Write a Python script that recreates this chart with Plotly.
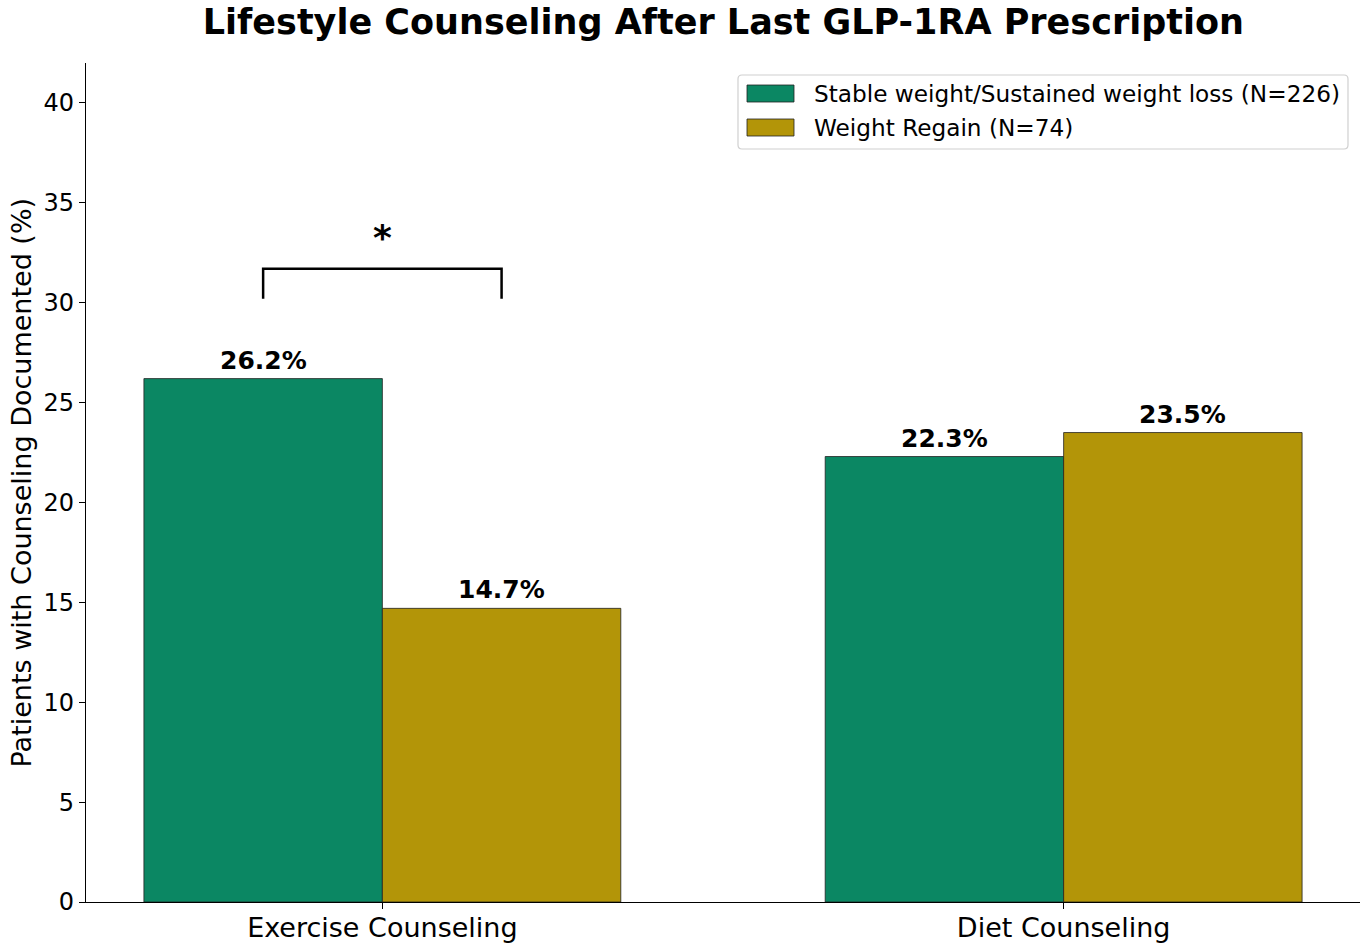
import plotly.graph_objects as go

categories = ["Exercise Counseling", "Diet Counseling"]
stable_vals = [26.2, 22.3]
regain_vals = [14.7, 23.5]
series_names = ["Stable weight/Sustained weight loss (N=226)", "Weight Regain (N=74)"]
colors = ["#0b8763", "#b39508"]
ytick_vals = [0, 5, 10, 15, 20, 25, 30, 35, 40]

x_pos = list(range(len(categories)))
width = 0.35
font = "DejaVu Sans"

# plot-area geometry (pixels) used for the hand-built legend
L, R, T, B = 86, 1360, 63, 902
W_PX, H_PX = R - L, B - T


def px(x):
    return (x - L) / W_PX


def py(y):
    return (B - y) / H_PX


fig = go.Figure()
for vals, name, col, off in [(stable_vals, series_names[0], colors[0], -width),
                             (regain_vals, series_names[1], colors[1], 0.0)]:
    fig.add_trace(go.Bar(
        x=x_pos, y=vals, name=name, width=width, offset=off, showlegend=False,
        marker=dict(color=col, line=dict(color="#222222", width=0.8)),
    ))
    for xi, v in zip(x_pos, vals):
        fig.add_annotation(x=xi + off + width / 2, y=v, text=f"<b>{v:.1f}%</b>",
                           showarrow=False, yanchor="bottom", yshift=2,
                           font=dict(family=font, size=25, color="black"))

# significance bracket
b_low, b_high = 30.2, 31.7
x1 = x_pos[0] - width / 2
x2 = x_pos[0] + width / 2
fig.add_trace(go.Scatter(x=[x1, x1, x2, x2], y=[b_low, b_high, b_high, b_low],
                         mode="lines", line=dict(color="black", width=2.5),
                         showlegend=False, hoverinfo="skip"))
fig.add_annotation(x=x_pos[0], y=33.25, text="<b>*</b>", showarrow=False, yanchor="middle",
                   font=dict(family=font, size=36, color="black"))

# legend (drawn as shapes + text)
lx0, lx1, ly0, ly1, rr = 738, 1348, 75, 149, 4
path = (f"M {px(lx0 + rr)},{py(ly0)} L {px(lx1 - rr)},{py(ly0)} "
        f"Q {px(lx1)},{py(ly0)} {px(lx1)},{py(ly0 + rr)} "
        f"L {px(lx1)},{py(ly1 - rr)} Q {px(lx1)},{py(ly1)} {px(lx1 - rr)},{py(ly1)} "
        f"L {px(lx0 + rr)},{py(ly1)} Q {px(lx0)},{py(ly1)} {px(lx0)},{py(ly1 - rr)} "
        f"L {px(lx0)},{py(ly0 + rr)} Q {px(lx0)},{py(ly0)} {px(lx0 + rr)},{py(ly0)} Z")
fig.add_shape(type="path", path=path, xref="paper", yref="paper",
              line=dict(color="#d0d0d0", width=1.2), fillcolor="rgba(255,255,255,0.85)")
for i, (name, col) in enumerate(zip(series_names, colors)):
    cy = 93.5 + i * 34
    fig.add_shape(type="rect", xref="paper", yref="paper",
                  x0=px(747), x1=px(794), y0=py(cy - 8.5), y1=py(cy + 8.5),
                  fillcolor=col, line=dict(color="#222222", width=0.8))
    fig.add_annotation(xref="paper", yref="paper", x=px(812), y=py(cy), text=name,
                       showarrow=False, xanchor="left", yanchor="middle",
                       font=dict(family=font, size=23.2, color="black"))

# y-axis title
fig.add_annotation(xref="paper", yref="paper", x=px(21), y=0.5,
                   text="Patients with Counseling Documented (%)", textangle=-90,
                   showarrow=False, xanchor="center", yanchor="middle",
                   font=dict(family=font, size=27, color="black"))

fig.update_layout(
    width=1370, height=946,
    paper_bgcolor="white", plot_bgcolor="white",
    margin=dict(l=L, r=1370 - R, t=T, b=946 - B),
    font=dict(family=font, color="black"),
    title=dict(text="<b>Lifestyle Counseling After Last GLP-1RA Prescription</b>",
               x=0.528, xanchor="center", y=0.977, yanchor="middle",
               font=dict(family=font, size=35, color="black")),
    barmode="overlay",
    showlegend=False,
    xaxis=dict(range=[-0.435, 1.435], tickmode="array", tickvals=x_pos, ticktext=categories,
               showline=True, linecolor="black", linewidth=1.2, automargin=False,
               ticks="outside", ticklen=6, tickcolor="black", ticklabelstandoff=-5,
               tickfont=dict(family=font, size=27, color="black"),
               showgrid=False, zeroline=False),
    yaxis=dict(range=[0, 42], tickmode="array", tickvals=ytick_vals,
               showline=True, linecolor="black", linewidth=1.2, automargin=False,
               ticks="outside", ticklen=6, tickcolor="black",
               tickfont=dict(family=font, size=24, color="black"),
               showgrid=False, zeroline=False),
)

fig.write_html("out.html")
